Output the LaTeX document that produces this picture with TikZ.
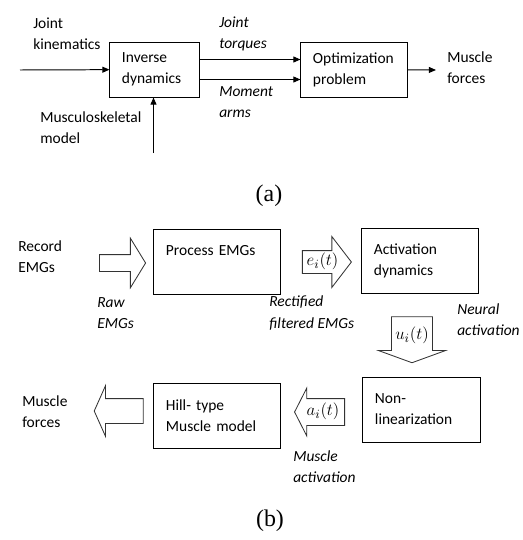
\documentclass[tikz,border=0pt]{standalone}
\usepackage{fontspec}
\setmainfont{Carlito}
\newfontfamily\capfont{Liberation Serif}
\usetikzlibrary{arrows.meta,shapes.arrows}

\begin{document}
\begin{tikzpicture}[x=0.025cm,y=-0.025cm,font=\fontsize{11}{15}\selectfont,
  >={Triangle[length=1.8mm,width=1.5mm]},
  blk/.style={draw,line width=0.7pt,align=left,inner xsep=0.3cm,inner ysep=0pt,
    minimum height=1.625cm},
  lbl/.style={anchor=west,align=left,inner sep=0pt},
  sig/.style={lbl,font=\fontsize{11}{15}\selectfont\itshape},
  fat/.style={draw=black!80,line width=0.6pt,single arrow,inner sep=0pt,
    font=\fontsize{12.5}{15}\selectfont},
  subcap/.style={font=\capfont\fontsize{17}{20}\selectfont,inner sep=0pt}]
  \useasboundingbox (0,0) rectangle (523,540);

  % (a) inverse dynamics + optimization
  \node[blk,text width=1.625cm,minimum height=1.375cm] (inv) at (154.5,69.5) {Inverse\\dynamics};
  \node[blk,text width=2.05cm,minimum height=1.375cm] (opt) at (354,69.5) {Optimization\\problem};
  \coordinate (kin) at (20,70);
  \coordinate (msk) at (153.5,153);
  \coordinate (out) at (436,70);
  \draw[line width=0.7pt,->] (kin) -- (inv);
  \draw[line width=0.7pt,->] (msk) -- (msk |- inv.south);
  \draw[line width=0.7pt,->] ([yshift=0.25cm]inv.east) -- ([yshift=0.25cm]opt.west);
  \draw[line width=0.7pt,->] ([yshift=-0.25cm]inv.east) -- ([yshift=-0.25cm]opt.west);
  \draw[line width=0.7pt,->] (opt) -- (out);
  \node[lbl] (kintxt) at (33,34) {Joint\\kinematics};
  \node[sig] (tqtxt) at (219,34) {Joint\\torques};
  \node[sig] (armtxt) at (219,102) {Moment\\arms};
  \node[lbl] (msktxt) at (40,127.5) {Musculoskeletal\\model};
  \node[lbl] (forcetxt) at (447,68) {Muscle\\forces};
  \node[subcap] (capa) at (269,196) {(a)};

  % (b) EMG-driven pipeline
  \node[lbl] (rec) at (18,257) {Record\\EMGs};
  \node[fat,text height=0.2cm,text depth=0.2cm,minimum height=1.15cm,
    single arrow head extend=0.41cm,single arrow tip angle=117] (raw) at (120,263) {};
  \node[blk,text width=2.55cm] (proc) at (217,261.5) {Process EMGs\\\mbox{}};
  \node[fat,text height=0.37cm,text depth=0.18cm,minimum height=1.225cm,
    single arrow head extend=0.35cm,single arrow tip angle=105] (ei) at (322.5,262)
    {\makebox[0.6cm]{$e_i(t)$}};
  \node[blk,text width=2.3cm] (act) at (420,261) {Activation\\dynamics};
  \node[sig] (rawtxt) at (97,313) {Raw\\EMGs};
  \node[sig] (rectxt) at (269,313) {Rectified\\filtered EMGs};
  \node[sig] (neutxt) at (457,320) {Neural\\activation};
  \node[fat,shape border rotate=270,text width=1cm,align=center,text height=0.37cm,
    text depth=0.18cm,minimum height=1.15cm,single arrow head extend=0.325cm,
    single arrow tip angle=140] (ui) at (412,336) {$u_i(t)$};
  \node[blk,text width=2.325cm] (nonlin) at (421.5,409.5) {Non-\\linearization};
  \node[fat,shape border rotate=180,text height=0.42cm,text depth=0.23cm,
    minimum height=1.25cm,single arrow head extend=0.26cm,
    single arrow tip angle=126] (ai) at (323,412) {\makebox[0.7cm]{$a_i(t)$}};
  \node[blk,text width=2.55cm] (hill) at (217,415.5) {Hill- type\\Muscle model};
  \node[fat,shape border rotate=180,text height=0.3cm,text depth=0.3cm,
    minimum height=1.225cm,single arrow head extend=0.325cm,
    single arrow tip angle=132] (mf) at (121.5,411) {};
  \node[lbl] (mftxt) at (22,412) {Muscle\\forces};
  \node[sig] (acttxt) at (293,467) {Muscle\\activation};
  \node[subcap] (capb) at (270,521) {(b)};
\end{tikzpicture}
\end{document}
